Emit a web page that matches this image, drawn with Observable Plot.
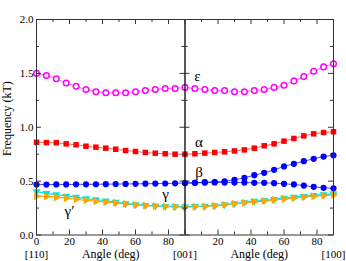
<!DOCTYPE html>
<html>
<head>
<meta charset="utf-8">
<script src="https://cdn.jsdelivr.net/npm/d3@7"></script>
<script src="https://cdn.jsdelivr.net/npm/@observablehq/plot@0.6"></script>
<style>
  html, body { margin: 0; padding: 0; background: #fff; }
  #chart svg { display: block; font-family: "Liberation Serif", "Times New Roman", serif !important; }
  #chart svg text { font-family: "Liberation Serif", "Times New Roman", serif !important; }
</style>
</head>
<body>
<div id="chart"></div>
<script>
// Angles (deg) sampled in each panel
const angles = [0, 6, 12, 18, 24, 30, 36, 42, 48, 54, 60, 66, 72, 78, 84, 90];

// Left panel: [110] -> [001]
const epsL   = [1.50, 1.48, 1.45, 1.41, 1.38, 1.35, 1.33, 1.32, 1.32, 1.32, 1.33, 1.34, 1.35, 1.36, 1.36, 1.37];
const alphaL = [0.861, 0.858, 0.856, 0.846, 0.837, 0.824, 0.815, 0.806, 0.796, 0.784, 0.775, 0.766, 0.759, 0.754, 0.750, 0.750];
const betaL  = [0.468, 0.468, 0.469, 0.469, 0.470, 0.470, 0.471, 0.472, 0.473, 0.474, 0.475, 0.476, 0.477, 0.478, 0.480, 0.482];
const gamCL  = [0.402, 0.386, 0.374, 0.362, 0.351, 0.338, 0.328, 0.318, 0.305, 0.292, 0.283, 0.276, 0.270, 0.266, 0.263, 0.262];
const gamOL  = [0.360, 0.358, 0.351, 0.342, 0.332, 0.322, 0.314, 0.306, 0.298, 0.288, 0.280, 0.274, 0.268, 0.265, 0.262, 0.260];

// Right panel: [001] -> [100]
const epsR   = [1.37, 1.36, 1.35, 1.34, 1.34, 1.33, 1.33, 1.34, 1.35, 1.37, 1.39, 1.43, 1.47, 1.52, 1.56, 1.59];
const alphaR = [0.750, 0.754, 0.760, 0.766, 0.772, 0.780, 0.790, 0.806, 0.828, 0.846, 0.871, 0.896, 0.920, 0.939, 0.951, 0.958];
const beta1R = [0.482, 0.484, 0.490, 0.492, 0.499, 0.512, 0.530, 0.555, 0.577, 0.605, 0.636, 0.661, 0.685, 0.707, 0.728, 0.740];
const beta2R = [0.482, 0.484, 0.487, 0.488, 0.487, 0.487, 0.487, 0.484, 0.484, 0.481, 0.475, 0.469, 0.459, 0.447, 0.438, 0.434];
const gamCR  = [0.262, 0.266, 0.268, 0.274, 0.283, 0.292, 0.302, 0.314, 0.322, 0.332, 0.342, 0.351, 0.360, 0.368, 0.375, 0.382];
const gamOR  = [0.260, 0.264, 0.265, 0.271, 0.280, 0.290, 0.299, 0.308, 0.315, 0.326, 0.335, 0.344, 0.353, 0.360, 0.367, 0.373];

// Tick values
const xMajor = [0, 20, 40, 60, 80, 90, 110, 130, 150, 170, 180];
const xMinor = [10, 30, 50, 70, 100, 120, 140, 160];
const xLabels = [0, 20, 40, 60, 80, 110, 130, 150, 170];
const yMajor = [0, 0.5, 1.0, 1.5, 2.0];
const yMinor = [0.25, 0.75, 1.25, 1.75];

// Annotations (data coordinates, right panel offset by 90)
const annotations = [
  {text: "ε", x: 97.5, y: 1.47},
  {text: "α", x: 98.5, y: 0.865},
  {text: "β", x: 98.5, y: 0.585},
  {text: "γ", x: 78.2, y: 0.38},
  {text: "γ′", x: 20, y: 0.225}
];
const directions = [
  {text: "[110]", x: 0},
  {text: "[001]", x: 90},
  {text: "[100]", x: 180}
];
const axisTitles = [
  {text: "Angle (deg)", x: 45},
  {text: "Angle (deg)", x: 135}
];

function build(series, panel, values) {
  return values.map((v, i) => ({series, panel, angle: angles[i], value: v, x: panel === "R" ? 90 + angles[i] : angles[i]}));
}

const colors = {eps: "#ff00ff", alpha: "#ff0000", beta: "#0000ff", gamC: "#00e5ee", gamO: "#ffa500"};
const FONT = "Liberation Serif, Times New Roman, serif";

const epsData   = [...build("epsL", "L", epsL), ...build("epsR", "R", epsR).slice(1)];
const alphaData = [...build("alphaL", "L", alphaL), ...build("alphaR", "R", alphaR).slice(1)];
const betaA     = [...build("b1", "L", betaL), ...build("b1", "R", beta1R).slice(1)];
const betaB     = build("b2", "R", beta2R);
const gamCData  = [...build("gc", "L", gamCL), ...build("gc", "R", gamCR).slice(1)];
const gamOData  = [...build("go", "L", gamOL), ...build("go", "R", gamOR).slice(1)];

const tickLen = 5 / 107.75;
const tickLenS = 3 / 107.75;
const tickW = 5 / 1.65;
const tickWS = 3 / 1.65;

const chart = Plot.plot({
  width: 346,
  height: 261,
  marginLeft: 36,
  marginRight: 13,
  marginTop: 19,
  marginBottom: 26.5,
  style: {fontFamily: FONT, fontSize: "11px", background: "white", color: "black"},
  x: {domain: [0, 180], axis: null},
  y: {domain: [0, 2], axis: null},
  marks: [
    Plot.line(gamOData, {x: "x", y: "value", stroke: colors.gamO, strokeWidth: 1.2}),
    Plot.line(gamCData, {x: "x", y: "value", stroke: colors.gamC, strokeWidth: 1.2}),
    Plot.line(betaA, {x: "x", y: "value", stroke: colors.beta, strokeWidth: 1, strokeOpacity: 0.7}),
    Plot.line(betaB, {x: "x", y: "value", stroke: colors.beta, strokeWidth: 1, strokeOpacity: 0.7}),
    Plot.line(alphaData, {x: "x", y: "value", stroke: colors.alpha, strokeWidth: 1, strokeOpacity: 0.6}),
    Plot.line(epsData, {x: "x", y: "value", stroke: colors.eps, strokeWidth: 1, strokeOpacity: 0.6}),
    Plot.dot(gamCData, {x: "x", y: "value", symbol: "triangle", rotate: 180, r: 3, fill: colors.gamC, stroke: "none"}),
    Plot.dot(gamOData, {x: "x", y: "value", symbol: "triangle", rotate: 90, r: 3, fill: colors.gamO, stroke: "none"}),
    Plot.dot(betaA, {x: "x", y: "value", symbol: "circle", r: 3.1, fill: colors.beta, stroke: "none"}),
    Plot.dot(betaB, {x: "x", y: "value", symbol: "circle", r: 3.1, fill: colors.beta, stroke: "none"}),
    Plot.dot(alphaData, {x: "x", y: "value", symbol: "square", r: 3.1, fill: colors.alpha, stroke: "none"}),
    Plot.dot(epsData, {x: "x", y: "value", symbol: "circle", r: 2.8, fill: "white", stroke: colors.eps, strokeWidth: 1.5}),
    Plot.frame({stroke: "#333", strokeWidth: 1}),
    Plot.ruleX([90], {stroke: "black", strokeWidth: 1.3}),
    Plot.ruleX(xMajor, {x: d => d, y1: 0, y2: tickLen, stroke: "#333"}),
    Plot.ruleX(xMinor, {x: d => d, y1: 0, y2: tickLenS, stroke: "#333"}),
    Plot.ruleX(xMajor, {x: d => d, y1: 2, y2: 2 - tickLen, stroke: "#333"}),
    Plot.ruleX(xMinor, {x: d => d, y1: 2, y2: 2 - tickLenS, stroke: "#333"}),
    Plot.ruleY(yMajor, {y: d => d, x1: 0, x2: tickW, stroke: "#333"}),
    Plot.ruleY(yMinor, {y: d => d, x1: 0, x2: tickWS, stroke: "#333"}),
    Plot.ruleY(yMajor, {y: d => d, x1: 90 - tickW, x2: 90 + tickW, stroke: "#333"}),
    Plot.ruleY(yMinor, {y: d => d, x1: 90 - tickWS, x2: 90 + tickWS, stroke: "#333"}),
    Plot.ruleY(yMajor, {y: d => d, x1: 180 - tickW, x2: 180, stroke: "#333"}),
    Plot.ruleY(yMinor, {y: d => d, x1: 180 - tickWS, x2: 180, stroke: "#333"}),
    Plot.axisX({ticks: xLabels, tickFormat: d => String(d > 90 ? d - 90 : d), tickSize: 0, tickPadding: 2, label: null, fontSize: 11, fontFamily: FONT}),
    Plot.axisY({ticks: yMajor, tickFormat: d => d.toFixed(1), tickSize: 0, tickPadding: 3, label: null, fontSize: 11, fontFamily: FONT}),
    Plot.text(directions, {x: "x", text: "text", frameAnchor: "bottom", lineAnchor: "middle", dy: 19.5, fontSize: 11, fontFamily: FONT}),
    Plot.text(axisTitles, {x: "x", text: "text", frameAnchor: "bottom", lineAnchor: "middle", dy: 19.5, fontSize: 12, fontFamily: FONT}),
    Plot.text(["Frequency (kT)"], {y: () => 1.08, text: d => d, frameAnchor: "left", textAnchor: "middle", lineAnchor: "middle", dx: -29, rotate: -90, fontSize: 12, fontFamily: FONT}),
    Plot.text(annotations, {x: "x", y: "y", text: "text", fontSize: 15, textAnchor: "middle", lineAnchor: "middle", fontFamily: FONT})
  ]
});
document.getElementById("chart").appendChild(chart);
</script>
</body>
</html>
